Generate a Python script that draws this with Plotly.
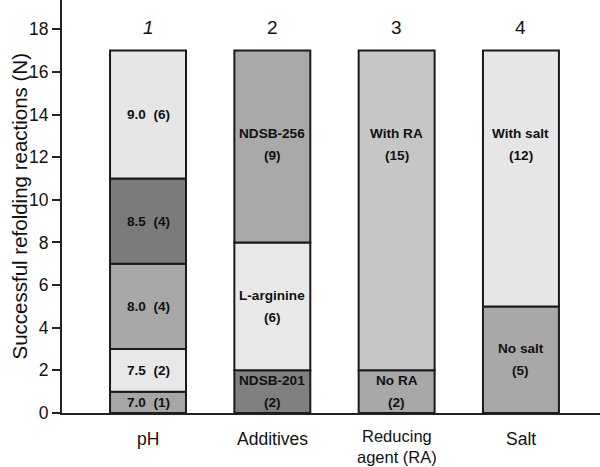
import plotly.graph_objects as go

# ---- data ----
categories = ["pH", "Additives", "Reducing<br>agent (RA)", "Salt"]
group_numbers = ["1", "2", "3", "4"]
y_ticks = [0, 2, 4, 6, 8, 10, 12, 14, 16, 18]
y_title = "Successful refolding reactions (N)"

ph_names = ["7.0", "7.5", "8.0", "8.5", "9.0"]
ph_counts = [1, 2, 4, 4, 6]
additive_names = ["NDSB-201", "L-arginine", "NDSB-256"]
additive_counts = [2, 6, 9]
ra_names = ["No RA", "With RA"]
ra_counts = [2, 15]
salt_names = ["No salt", "With salt"]
salt_counts = [5, 12]

# ---- styles ----
ph_colors = ["#a6a6a6", "#e8e8e8", "#a8a8a8", "#7b7b7b", "#e6e6e6"]
additive_colors = ["#808080", "#e8e8e8", "#a9a9a9"]
ra_colors = ["#a8a8a8", "#c6c6c6"]
salt_colors = ["#a8a8a8", "#e6e6e6"]
TOP_LABEL_Y = 12.6  # label level used for tall top segments with two-line labels
FONT = "Liberation Sans, Arial, sans-serif"

groups = [
    (ph_names, ph_counts, ph_colors, "inline"),
    (additive_names, additive_counts, additive_colors, "twoline"),
    (ra_names, ra_counts, ra_colors, "twoline"),
    (salt_names, salt_counts, salt_colors, "twoline"),
]

fig = go.Figure()
annotations = []
label_font = dict(family=FONT, size=13.6, color="#111")

for gi, (names, counts, colors, mode) in enumerate(groups):
    base = 0
    for si, (nm, ct, col) in enumerate(zip(names, counts, colors)):
        fig.add_trace(go.Bar(
            x=[gi], y=[ct], base=[base], width=0.611,
            marker=dict(color=col, line=dict(color="#1a1a1a", width=2)),
            showlegend=False, hoverinfo="skip",
        ))
        center = base + ct / 2
        if mode == "inline":
            annotations.append(dict(
                x=gi, y=center, xref="x", yref="y", showarrow=False,
                text=f"<b>{nm}&nbsp;&nbsp;({ct})</b>", font=label_font))
        else:
            is_top = si == len(names) - 1 and ct >= 9
            ly = TOP_LABEL_Y if is_top else center
            annotations.append(dict(
                x=gi, y=ly, xref="x", yref="y", showarrow=False, yshift=11,
                text=f"<b>{nm}</b>", font=label_font))
            annotations.append(dict(
                x=gi, y=ly, xref="x", yref="y", showarrow=False, yshift=-11,
                text=f"<b>({ct})</b>", font=label_font))
        base += ct
    annotations.append(dict(
        x=gi, y=18.1, xref="x", yref="y", showarrow=False,
        text=(f"<i>{group_numbers[gi]}</i>" if gi == 0 else group_numbers[gi]),
        font=dict(family=FONT, size=19, color="#111")))
    # category label below the axis
    n_lines = categories[gi].count("<br>") + 1
    annotations.append(dict(
        x=gi, y=0, xref="x", yref="paper", showarrow=False,
        yanchor="middle", yshift=-26 if n_lines == 1 else -33,
        text=categories[gi],
        font=dict(family=FONT, size=17.5 if n_lines == 1 else 16.5, color="#111")))

annotations.append(dict(
    x=0, y=0.5, xref="paper", yref="paper", xanchor="center", yanchor="middle",
    xshift=-43, showarrow=False, textangle=-90, text=y_title,
    font=dict(family=FONT, size=20.5, color="#111")))

fig.update_layout(
    width=600, height=467,
    margin=dict(l=62, r=0, t=0, b=54),
    plot_bgcolor="white", paper_bgcolor="white",
    barmode="overlay",
    annotations=annotations,
    font=dict(family=FONT, color="#111"),
)
fig.update_xaxes(
    range=[-0.692, 3.636], tickmode="array",
    tickvals=list(range(len(categories))), showticklabels=False,
    showline=True, linecolor="#222", linewidth=2,
    ticks="", showgrid=False, zeroline=False, automargin=False,
)
fig.update_yaxes(
    range=[0, 19.37], tickmode="array", tickvals=y_ticks,
    showline=True, linecolor="#222", linewidth=2,
    ticks="outside", ticklen=8, tickwidth=2, tickcolor="#222",
    tickfont=dict(size=17.5), showgrid=False, zeroline=False, automargin=False,
)

fig.write_html(
    "out.html",
    config={"displayModeBar": False},
    post_script="document.body.style.margin='0';document.body.style.overflow='hidden';",
)
